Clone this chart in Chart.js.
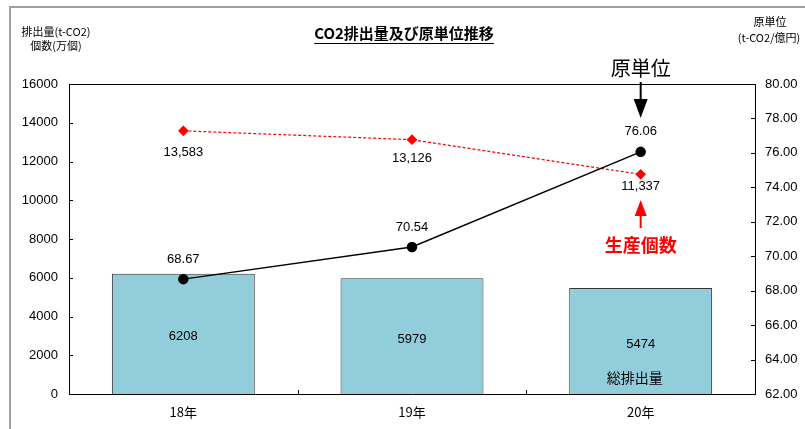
<!DOCTYPE html>
<html>
<head>
<meta charset="utf-8">
<script src="https://cdn.jsdelivr.net/npm/chart.js@4.4.0/dist/chart.umd.min.js"></script>
<style>
  html, body { margin: 0; padding: 0; background: #fff; }
  #wrap { width: 805px; height: 429px; }
</style>
</head>
<body>
<div id="wrap"><canvas id="c" width="805" height="429"></canvas></div>
<script>
// data
const years = ['18年', '19年', '20年'];
const emissions = [6208, 5979, 5474];         // 総排出量 (t-CO2)
const production = [13583, 13126, 11337];     // 生産個数 (万個)
const intensity = [68.67, 70.54, 76.06];      // 原単位 (t-CO2/億円)
const leftTicks = [0, 2000, 4000, 6000, 8000, 10000, 12000, 14000, 16000];
const rightTicks = [62, 64, 66, 68, 70, 72, 74, 76, 78, 80];

const NUM_FONT = '"Liberation Sans", Arial, sans-serif';
const JP_FONT = '"Noto Sans CJK JP", "Liberation Sans", sans-serif';

function fmt(n) {
    return n.toLocaleString('en-US');
}

// frame, title, axis titles, labels and arrows
const decorPlugin = {
    id: 'decor',
    beforeDraw(chart) {
        const ctx = chart.ctx;
        ctx.save();
        ctx.strokeStyle = '#a0a0a0';
        ctx.lineWidth = 2;
        ctx.beginPath();
        ctx.moveTo(10, 429);
        ctx.lineTo(10, 7);
        ctx.lineTo(805, 7);
        ctx.stroke();
        ctx.restore();
    },
    afterDatasetsDraw(chart) {
        const ctx = chart.ctx;
        const area = chart.chartArea;
        const x = chart.scales.x;
        const yL = chart.scales.y;
        const yR = chart.scales.y1;
        ctx.save();

        // top border of plot area
        ctx.strokeStyle = '#000';
        ctx.lineWidth = 1;
        ctx.beginPath();
        ctx.moveTo(area.left, area.top + 0.5);
        ctx.lineTo(area.right, area.top + 0.5);
        ctx.stroke();

        // inner tick marks
        ctx.beginPath();
        leftTicks.forEach(v => {
            const py = Math.round(yL.getPixelForValue(v)) + 0.5;
            ctx.moveTo(area.left, py);
            ctx.lineTo(area.left + 4, py);
        });
        rightTicks.forEach(v => {
            const py = Math.round(yR.getPixelForValue(v)) + 0.5;
            ctx.moveTo(area.right, py);
            ctx.lineTo(area.right - 4, py);
        });
        for (let i = 1; i < years.length; i++) {
            const px = Math.round((x.getPixelForValue(i - 1) + x.getPixelForValue(i)) / 2) + 0.5;
            ctx.moveTo(px, area.bottom);
            ctx.lineTo(px, area.bottom - 4);
        }
        ctx.stroke();

        // title
        ctx.fillStyle = '#000';
        ctx.textAlign = 'center';
        ctx.textBaseline = 'middle';
        ctx.font = 'bold 15px ' + JP_FONT;
        ctx.fillText('CO2排出量及び原単位推移', 404, 33);
        const tw = ctx.measureText('CO2排出量及び原単位推移').width;
        ctx.beginPath();
        ctx.moveTo(404 - tw / 2, 43.5);
        ctx.lineTo(404 + tw / 2, 43.5);
        ctx.stroke();

        // axis titles
        ctx.font = '11px ' + JP_FONT;
        ctx.fillText('排出量(t-CO2)', 56, 32);
        ctx.fillText('個数(万個)', 56, 46);
        ctx.fillText('原単位', 770, 22);
        ctx.fillText('(t-CO2/億円)', 769, 38);

        // bar labels
        const barMeta = chart.getDatasetMeta(0);
        ctx.font = '13px ' + NUM_FONT;
        barMeta.data.forEach((bar, i) => {
            const midY = (bar.y + bar.base) / 2;
            ctx.fillText(String(emissions[i]), bar.x, midY + 3);
        });
        const last = barMeta.data[barMeta.data.length - 1];
        ctx.font = '14px ' + JP_FONT;
        ctx.fillText('総排出量', last.x - 6, area.bottom - 16);

        // intensity labels (above)
        const intMeta = chart.getDatasetMeta(1);
        ctx.font = '13px ' + NUM_FONT;
        intMeta.data.forEach((pt, i) => {
            ctx.fillText(intensity[i].toFixed(2), pt.x, pt.y - 20);
        });

        // production labels (below)
        const prodMeta = chart.getDatasetMeta(2);
        const below = [22, 19, 12];
        prodMeta.data.forEach((pt, i) => {
            ctx.fillText(fmt(production[i]), pt.x, pt.y + below[i]);
        });

        // 原単位 callout
        const ax = x.getPixelForValue(years.length - 1);
        ctx.font = '20px ' + JP_FONT;
        ctx.fillStyle = '#000';
        ctx.fillText('原単位', ax, 68);
        ctx.strokeStyle = '#000';
        ctx.lineWidth = 2;
        ctx.beginPath();
        ctx.moveTo(ax, 82);
        ctx.lineTo(ax, 100);
        ctx.stroke();
        ctx.beginPath();
        ctx.moveTo(ax - 7, 99);
        ctx.lineTo(ax + 7, 99);
        ctx.lineTo(ax, 118);
        ctx.closePath();
        ctx.fill();

        // 生産個数 callout
        ctx.fillStyle = '#ff0000';
        ctx.strokeStyle = '#ff0000';
        ctx.beginPath();
        ctx.moveTo(ax, 214);
        ctx.lineTo(ax, 228);
        ctx.stroke();
        ctx.beginPath();
        ctx.moveTo(ax - 6, 216);
        ctx.lineTo(ax + 6, 216);
        ctx.lineTo(ax, 200);
        ctx.closePath();
        ctx.fill();
        ctx.font = 'bold 18px ' + JP_FONT;
        ctx.fillText('生産個数', ax, 245);

        ctx.restore();
    }
};

const chart = new Chart(document.getElementById('c'), {
    type: 'bar',
    data: {
        labels: years,
        datasets: [
            {
                type: 'bar',
                label: '総排出量',
                data: emissions,
                yAxisID: 'y',
                backgroundColor: '#92cddc',
                borderColor: '#333',
                borderWidth: 1,
                categoryPercentage: 1,
                barPercentage: 0.625,
                order: 3
            },
            {
                type: 'line',
                label: '原単位',
                data: intensity,
                yAxisID: 'y1',
                borderColor: '#000',
                backgroundColor: '#000',
                borderWidth: 1.5,
                pointRadius: 4.5,
                pointStyle: 'circle',
                tension: 0,
                order: 1
            },
            {
                type: 'line',
                label: '生産個数',
                data: production,
                yAxisID: 'y',
                borderColor: '#ff0000',
                backgroundColor: '#ff0000',
                borderWidth: 1.2,
                borderDash: [3, 2],
                pointRadius: 4.5,
                pointStyle: 'rectRot',
                tension: 0,
                order: 2
            }
        ]
    },
    options: {
        responsive: false,
        animation: false,
        layout: { padding: { top: 84, left: 0, right: 0, bottom: 0 } },
        plugins: {
            legend: { display: false },
            tooltip: { enabled: false },
            title: { display: false }
        },
        scales: {
            x: {
                grid: { display: false, drawTicks: false },
                border: { display: true, color: '#000', width: 1 },
                ticks: {
                    padding: 10,
                    color: '#000',
                    font: { family: JP_FONT, size: 13 }
                },
                afterFit(scale) { scale.height = 35; }
            },
            y: {
                position: 'left',
                min: 0,
                max: 16000,
                afterBuildTicks(scale) {
                    scale.ticks = leftTicks.map(v => ({ value: v }));
                },
                grid: { display: false, drawTicks: false },
                border: { display: true, color: '#000', width: 1 },
                ticks: {
                    padding: 11,
                    color: '#000',
                    font: { family: NUM_FONT, size: 13 },
                    callback: v => String(v)
                },
                afterFit(scale) { scale.width = 69; }
            },
            y1: {
                position: 'right',
                min: 62,
                max: 80,
                afterBuildTicks(scale) {
                    scale.ticks = rightTicks.map(v => ({ value: v }));
                },
                grid: { display: false, drawTicks: false },
                border: { display: true, color: '#000', width: 1 },
                ticks: {
                    padding: 10,
                    color: '#000',
                    font: { family: NUM_FONT, size: 13 },
                    callback: v => Number(v).toFixed(2)
                },
                afterFit(scale) { scale.width = 50; }
            }
        }
    },
    plugins: [decorPlugin]
});
</script>
</body>
</html>
